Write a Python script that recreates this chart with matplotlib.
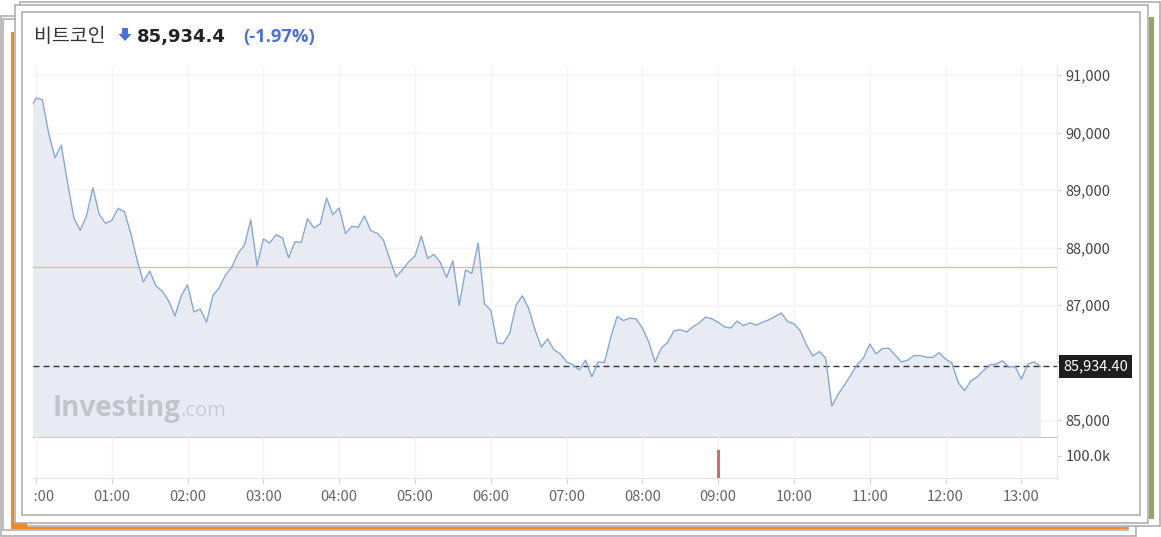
import matplotlib.pyplot as plt
import numpy as np
from matplotlib.patches import Rectangle, Polygon
from matplotlib.transforms import Bbox, TransformedBbox, blended_transform_factory

# 5-minute closes, first one at 23:55 of the previous day
prices = [90380,
          90600, 90570, 89990, 89560, 89780, 89120, 88510, 88300, 88550, 89040,
          88580, 88420, 88470, 88680, 88620, 88250, 87780, 87400, 87590, 87330,
          87240, 87070, 86810, 87160, 87350, 86880, 86930, 86700, 87160, 87300,
          87520, 87660, 87900, 88040, 88480, 87680, 88150, 88080, 88220, 88170,
          87820, 88100, 88090, 88500, 88340, 88410, 88860, 88570, 88690, 88240,
          88370, 88350, 88550, 88290, 88250, 88130, 87800, 87490, 87610, 87750,
          87850, 88200, 87810, 87880, 87740, 87480, 87770, 86990, 87610, 87550,
          88080, 87020, 86910, 86340, 86330, 86510, 87000, 87160, 86940, 86570,
          86270, 86410, 86220, 86150, 86010, 85960, 85870, 86040, 85750, 86010,
          86000, 86440, 86800, 86730, 86770, 86760, 86600, 86360, 86010, 86250,
          86350, 86550, 86570, 86530, 86620, 86690, 86790, 86760, 86700, 86620,
          86600, 86720, 86640, 86690, 86650, 86700, 86740, 86800, 86860, 86710,
          86670, 86550, 86300, 86110, 86190, 86080, 85240, 85450, 85610, 85780,
          85960, 86080, 86320, 86150, 86240, 86250, 86130, 86010, 86040, 86120,
          86120, 86090, 86090, 86170, 86060, 85990, 85650, 85510, 85680, 85750,
          85860, 85960, 85970, 86030, 85920, 85930, 85710, 85970, 86010, 85934.4]
start_hour = -5 / 60
step_hour = 5 / 60
hours = start_hour + step_hour * np.arange(len(prices))

name = '비트코인'
last = 85934.4
change_pct = -1.97
prev_close = 87661

vol_hours = [9.0]
vol_values = [127000]

price_ticks = [85000, 86000, 87000, 88000, 89000, 90000, 91000]
price_labels = ['85,000', '', '87,000', '88,000', '89,000', '90,000', '91,000']
hour_ticks = list(range(14))
hour_labels = ['%02d:00' % h for h in hour_ticks]

W, H = 1161, 537
fig = plt.figure(figsize=(W / 100, H / 100), dpi=100)

# stacked screenshot frames behind the chart
bg = fig.add_axes([0, 0, 1, 1])
bg.set_xlim(0, W)
bg.set_ylim(H, 0)
bg.axis('off')


def frame(x0, y0, x1, y1):
    bg.add_patch(Rectangle((x0, y0), x1 - x0, y1 - y0, fc='white', ec='#a8a8a8', lw=1.1))


frame(1, 16, 1136, 536)
frame(3, 19, 1128, 530)
bg.add_patch(Rectangle((11, 32), 3, 496, fc='#f5891f', ec='none'))
bg.add_patch(Rectangle((11, 526.8), 1117, 2.2, fc='#f5891f', ec='none'))
frame(20, 1.5, 1160, 526)
bg.add_patch(Rectangle((11, 522.5), 16, 6, fc='#f5891f', ec='none'))
bg.add_patch(Rectangle((1149, 17), 5, 502, fc='#8fa865', ec='none'))
frame(15, 5, 1148, 523)
frame(22, 12, 1140, 515)

# title
bg.text(34, 42, name, family='Noto Sans CJK KR', fontsize=14, color='#333333', va='baseline')
bg.add_patch(Polygon([[122, 28], [128, 28], [128, 34], [131.5, 34], [125, 41], [118.5, 34], [122, 34]],
                     fc='#4a6fe0', ec='none'))
bg.text(137, 42, f'{last:,.1f}', family='DejaVu Sans', fontweight='bold', fontsize=13,
        color='#222222', va='baseline')
bg.text(243, 42, f'({change_pct:.2f}%)', family='Open Sans', fontweight='bold', fontsize=13.2,
        color='#4a6fe0', va='baseline')

# chart panels
left, right = 33 / W, 1057 / W
ax = fig.add_axes([left, 1 - 437 / H, right - left, (437 - 66) / H])
axv = fig.add_axes([left, 1 - 478 / H, right - left, (478 - 437) / H])
for a in (ax, axv):
    a.patch.set_alpha(0)
    a.set_xlim(-0.0396, 13.47)
    a.spines['top'].set_visible(False)
    a.spines['left'].set_visible(False)
    a.spines['right'].set_color('#e6e7ee')
    a.set_xticks(hour_ticks)
    a.yaxis.tick_right()

ymin, ymax = 84704, 91157
ax.set_ylim(ymin, ymax)
ax.fill_between(hours, prices, ymin, color='#e8ecf2', lw=0, zorder=1)
ax.plot(hours, prices, color='#86a8d8', lw=1.0, zorder=4)
ax.axhline(prev_close, color='#f2b5ad', lw=1, zorder=3)
ax.axhline(last, color='#333333', lw=1, dashes=(4.3, 2.9), zorder=3)
ax.grid(True, color='#f3f4f7', lw=1, zorder=0)
ax.set_axisbelow(True)
ax.spines['bottom'].set_color('#c9c9c9')
ax.set_yticks(price_ticks)
ax.set_yticklabels(price_labels)
ax.tick_params(axis='x', length=0, labelbottom=False)
ax.tick_params(axis='y', length=3, color='#cfd0d8', pad=3, labelsize=10.5, labelcolor='#444444')
for lb in ax.get_yticklabels():
    lb.set_family('Noto Sans CJK KR')

# watermark
ax.text(0.0186, 0.0566, 'Investing', transform=ax.transAxes, family='Open Sans', fontweight='bold',
        fontsize=20, color='#c2c4c8', va='baseline', zorder=2)
ax.text(0.1445, 0.0566, '.com', transform=ax.transAxes, family='Open Sans', fontsize=14.5,
        color='#c9cbce', va='baseline', zorder=2)

# last price tag
tr = blended_transform_factory(ax.transAxes, ax.transData)
ax.annotate(f'{last:,.2f}', xy=(1, last), xycoords=tr, xytext=(4.3, 0), textcoords='offset points',
            ha='left', va='center', color='white', fontsize=10.5, family='Noto Sans CJK KR',
            bbox=dict(boxstyle='square,pad=0.3', fc='#1e1e1e', ec='none'), annotation_clip=False, zorder=6)

# volume
axv.set_ylim(0, 186000)
axv.bar(vol_hours, vol_values, width=0.04, color='#d46a6a', zorder=3)
axv.grid(True, axis='x', color='#f3f4f7', lw=1, zorder=0)
axv.set_axisbelow(True)
axv.spines['bottom'].set_color('#e3e3e3')
axv.set_yticks([100000])
axv.set_yticklabels(['100.0k'])
axv.set_xticklabels(hour_labels)
axv.tick_params(axis='y', length=3, color='#cfd0d8', pad=3, labelsize=10.5, labelcolor='#444444')
axv.tick_params(axis='x', length=4, color='#d6d6d6', pad=4.5, labelsize=10.5, labelcolor='#666666')
for lb in axv.get_yticklabels() + axv.get_xticklabels():
    lb.set_family('Noto Sans CJK KR')
first = axv.get_xticklabels()[0]
first.set_clip_box(TransformedBbox(Bbox([[left, 0], [1, 1]]), fig.transFigure))
first.set_clip_on(True)

fig.savefig('out.png', dpi=100)
